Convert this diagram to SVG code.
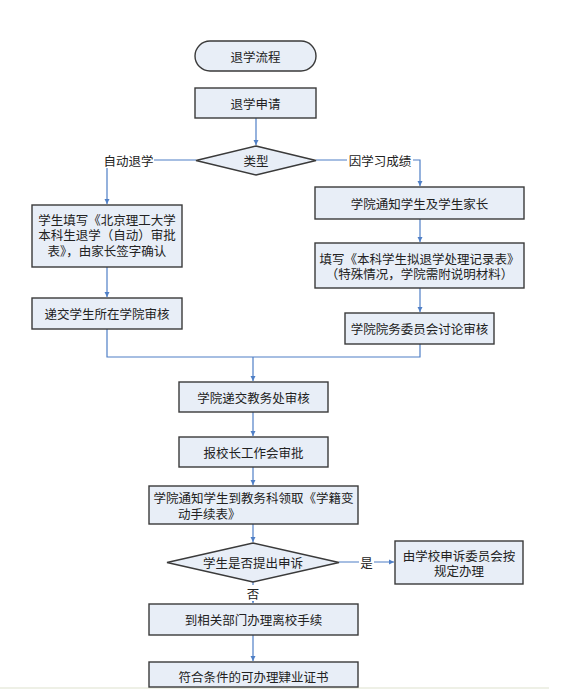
<svg xmlns="http://www.w3.org/2000/svg" width="567" height="696" viewBox="0 0 567 696">
<style>
.n{fill:#E8EEF7;stroke:#3A3A3A;stroke-width:1.4}
.t{font-family:"Noto Sans CJK SC","Noto Sans",sans-serif;font-size:12.5px;fill:#222;text-anchor:middle;dominant-baseline:central}
.c{fill:none;stroke:#4F7FC6;stroke-width:1.2}
.lb{fill:#fff}
</style>
<defs>
<marker id="ah" markerWidth="6" markerHeight="6" refX="5" refY="3" orient="auto" markerUnits="userSpaceOnUse">
<path d="M0,0.5 L5,3 L0,5.5 Z" fill="#4F7FC6"/>
</marker>
</defs>
<rect width="567" height="696" fill="#fff"/>
<line x1="0" y1="688" x2="549" y2="688" stroke="#EEF0E6" stroke-width="2"/>
<g id="connectors">
<path class="c" d="M256,118 V145" marker-end="url(#ah)"/>
<path class="c" d="M196,160 H107 V204" marker-end="url(#ah)"/>
<path class="c" d="M316,160 H420 V186" marker-end="url(#ah)"/>
<path class="c" d="M107,267 V297" marker-end="url(#ah)"/>
<path class="c" d="M420,219 V242" marker-end="url(#ah)"/>
<path class="c" d="M420,288 V312" marker-end="url(#ah)"/>
<path class="c" d="M107,329 V357 H420 V344"/>
<path class="c" d="M253,357 V381" marker-end="url(#ah)"/>
<path class="c" d="M253,412 V436" marker-end="url(#ah)"/>
<path class="c" d="M253,467 V485" marker-end="url(#ah)"/>
<path class="c" d="M253,524 V542" marker-end="url(#ah)"/>
<path class="c" d="M339,562 H394" marker-end="url(#ah)"/>
<path class="c" d="M253,582 V603" marker-end="url(#ah)"/>
<path class="c" d="M253,635 V661" marker-end="url(#ah)"/>
<rect class="lb" x="102" y="152" width="52" height="16"/>
<text class="t" x="128.5" y="160">自动退学</text>
<rect class="lb" x="347" y="152" width="66" height="16"/>
<text class="t" x="380" y="160">因学习成绩</text>
<rect class="lb" x="359" y="554" width="15" height="16"/>
<text class="t" x="366.5" y="562">是</text>
<rect class="lb" x="246" y="585" width="15" height="16"/>
<text class="t" x="253" y="593">否</text>
</g>
<g id="start">
<rect class="n" x="195" y="41" width="121" height="30" rx="15"/>
<text class="t" x="255.5" y="56">退学流程</text>
</g>
<g id="apply">
<rect class="n" x="195" y="88" width="121" height="30"/>
<text class="t" x="255.5" y="103">退学申请</text>
</g>
<g id="type">
<polygon class="n" points="256,146 316,160.5 256,175 196,160.5"/>
<text class="t" x="256" y="160.5">类型</text>
</g>
<g id="fill-form">
<rect class="n" x="32" y="205" width="150" height="62"/>
<text class="t" x="107" y="219">学生填写《北京理工大学</text>
<text class="t" x="107" y="234">本科生退学（自动）审批</text>
<text class="t" x="107" y="250">表》，由家长签字确认</text>
</g>
<g id="submit-college">
<rect class="n" x="32" y="298" width="150" height="31"/>
<text class="t" x="107" y="313.5">递交学生所在学院审核</text>
</g>
<g id="notify-parents">
<rect class="n" x="315" y="187" width="209" height="32"/>
<text class="t" x="419.5" y="203">学院通知学生及学生家长</text>
</g>
<g id="record-form">
<rect class="n" x="315" y="243" width="209" height="45"/>
<text class="t" x="419.5" y="258">填写《本科学生拟退学处理记录表》</text>
<text class="t" x="419.5" y="273">（特殊情况，学院需附说明材料）</text>
</g>
<g id="committee">
<rect class="n" x="345" y="313" width="149" height="31"/>
<text class="t" x="419.5" y="328.5">学院院务委员会讨论审核</text>
</g>
<g id="academic-affairs">
<rect class="n" x="179" y="382" width="149" height="30"/>
<text class="t" x="253.5" y="397">学院递交教务处审核</text>
</g>
<g id="president">
<rect class="n" x="179" y="437" width="149" height="30"/>
<text class="t" x="253.5" y="452">报校长工作会审批</text>
</g>
<g id="change-form">
<rect class="n" x="149" y="486" width="209" height="38"/>
<text class="t" x="253.5" y="497">学院通知学生到教务科领取《学籍变</text>
<text class="t" x="178" y="513" style="text-anchor:start">动手续表》</text>
</g>
<g id="appeal">
<polygon class="n" points="253,543 339,562.5 253,582 167,562.5"/>
<text class="t" x="253" y="562.5">学生是否提出申诉</text>
</g>
<g id="appeal-committee">
<rect class="n" x="395" y="541" width="128" height="43"/>
<text class="t" x="459" y="555">由学校申诉委员会按</text>
<text class="t" x="459" y="570">规定办理</text>
</g>
<g id="leave">
<rect class="n" x="149" y="604" width="209" height="31"/>
<text class="t" x="253.5" y="619.5">到相关部门办理离校手续</text>
</g>
<g id="certificate">
<rect class="n" x="149" y="662" width="209" height="25"/>
<text class="t" x="253.5" y="676">符合条件的可办理肄业证书</text>
</g>
</svg>
